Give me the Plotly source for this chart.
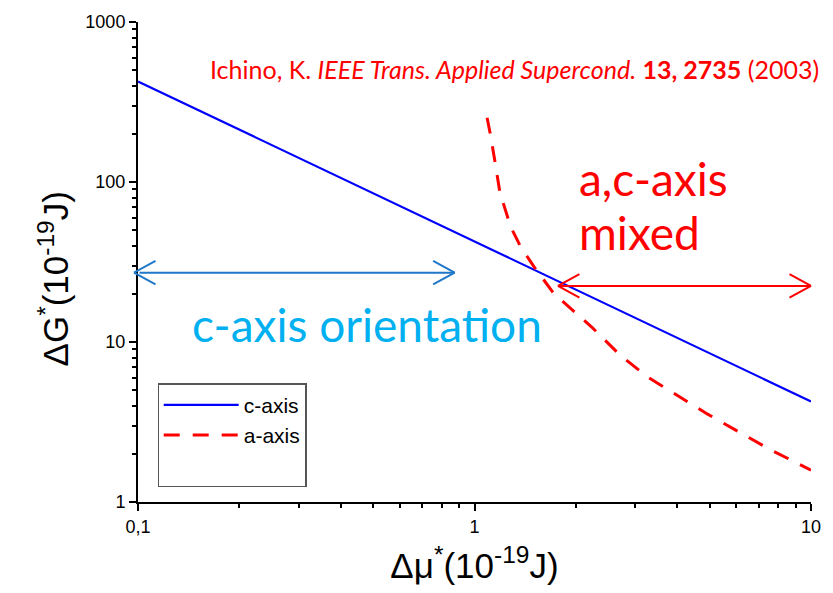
import math
import plotly.graph_objects as go

# ---- data ----
c_axis_mu = [0.1, 1.0, 10.0]
c_axis_G = [425, 42.5, 4.25]

a_axis_mu = [1.09, 1.115, 1.153, 1.19, 1.28, 1.37, 1.50, 1.72, 2.23, 2.71, 3.28, 4.03, 4.93, 6.13, 7.52, 10.0]
a_axis_G = [252, 198, 130, 86, 52.7, 39.5, 29.7, 20.1, 12.4, 8.26, 6.02, 4.59, 3.54, 2.73, 2.14, 1.58]

x_tick_vals = [0.1, 1, 10]
x_tick_text = ["0,1", "1", "10"]
y_tick_vals = [1, 10, 100, 1000]
y_tick_text = ["1", "10", "100", "1000"]

# region arrows: (left mu, right mu, G level)
c_region = (0.1, 0.873, 27.1)
ac_region = (1.77, 10.0, 22.4)

L = math.log10

fig = go.Figure()
fig.add_trace(go.Scatter(x=c_axis_mu, y=c_axis_G, mode="lines", name="c-axis",
                         line=dict(color="#0000ff", width=2.2)))
fig.add_trace(go.Scatter(x=a_axis_mu, y=a_axis_G, mode="lines", name="a-axis",
                         line=dict(color="#ff0000", width=3, dash="16px,13px")))
fig.add_trace(go.Scatter(x=[None], y=[None], mode="lines", name=" ",
                         line=dict(color="rgba(0,0,0,0)", width=1), hoverinfo="skip"))

minor_x = [m * d for d in (0.1, 1) for m in range(2, 10)]
minor_y = [m * d for d in (1, 10, 100) for m in range(2, 10)]

axis_font = dict(family="Liberation Sans, Arial", size=18, color="black")
title_font = dict(family="Liberation Sans, Arial", size=35, color="black")
fig.update_xaxes(type="log", range=[L(0.1), L(10)], tickvals=x_tick_vals, ticktext=x_tick_text,
                 showline=True, linecolor="black", linewidth=2, mirror=False,
                 ticks="outside", ticklen=7, tickwidth=1.5, tickcolor="black",
                 minor=dict(tickvals=minor_x, ticks="outside", ticklen=4, tickwidth=1.5, tickcolor="black"),
                 showgrid=False, zeroline=False, tickfont=axis_font,
                 title=dict(text="Δμ<sup>*</sup>(10<sup>-19</sup>J)", font=title_font, standoff=18))
fig.update_yaxes(type="log", range=[L(1), L(1000)], tickvals=y_tick_vals, ticktext=y_tick_text,
                 showline=True, linecolor="black", linewidth=2, mirror=False,
                 ticks="outside", ticklen=7, tickwidth=1.5, tickcolor="black",
                 minor=dict(tickvals=minor_y, ticks="outside", ticklen=4, tickwidth=1.5, tickcolor="black"),
                 showgrid=False, zeroline=False, tickfont=axis_font)

annotations = []
# y-axis title (placed as rotated text, slightly below the plot centre as in the reference)
annotations.append(dict(x=0, y=0.4636, xref="paper", yref="paper", xshift=-84,
                        text="ΔG<sup>*</sup>(10<sup>-19</sup>J)", textangle=-90,
                        showarrow=False, xanchor="center", yanchor="middle", font=title_font))

# double arrows with open chevron heads (log-axis annotations use log10 coordinates)
head_dx, head_dy = 22, 12
for (x0, x1, g), col in ((c_region, "#1f78c8"), (ac_region, "#ff0000")):
    xs0 = -4 if x0 <= 0.1 else 0
    annotations.append(dict(x=L(x1), y=L(g), ax=L(x0), ay=L(g), xref="x", yref="y",
                            axref="x", ayref="y", text="", showarrow=True,
                            arrowhead=0, arrowwidth=2, arrowcolor=col))
    for tip, sgn, xs in ((x0, 1, xs0), (x1, -1, 0)):
        for vy in (-head_dy, head_dy):
            annotations.append(dict(x=L(tip), y=L(g), xref="x", yref="y", xshift=xs,
                                    ax=sgn * head_dx, ay=vy, text="", showarrow=True,
                                    arrowhead=0, arrowwidth=2, arrowcolor=col, standoff=0,
                                    borderpad=0, font=dict(size=1)))

big = dict(family="Lato", size=46)
annotations.append(dict(x=-0.32, y=1.11, xref="x", yref="y", text="c-axis orientation",
                        showarrow=False, xanchor="center", yanchor="middle",
                        font=dict(**big, color="#00b0f0")))
annotations.append(dict(x=0.304, y=2.02, xref="x", yref="y", text="a,c-axis",
                        showarrow=False, xanchor="left", yanchor="middle",
                        font=dict(**big, color="#ff0000")))
annotations.append(dict(x=0.304, y=1.685, xref="x", yref="y", text="mixed",
                        showarrow=False, xanchor="left", yanchor="middle",
                        font=dict(**big, color="#ff0000")))
annotations.append(dict(x=1, y=1, xref="paper", yref="paper", xshift=10, yshift=-47,
                        text="Ichino, K. <i>IEEE Trans. Applied Supercond.</i> <b>13, 2735</b> (2003)",
                        showarrow=False, xanchor="right", yanchor="middle",
                        font=dict(family="Lato", size=25, color="#ff0000")))

fig.update_layout(
    width=833, height=593,
    margin=dict(l=138, r=20, t=21, b=91),
    plot_bgcolor="white", paper_bgcolor="white",
    showlegend=True,
    legend=dict(x=0.029, y=0.247, xanchor="left", yanchor="top",
                bordercolor="#555555", borderwidth=1.2, bgcolor="white",
                font=dict(family="Liberation Sans, Arial", size=21, color="black"),
                itemwidth=75, tracegroupgap=0),
    annotations=annotations,
)

fig.write_html("out.html")
